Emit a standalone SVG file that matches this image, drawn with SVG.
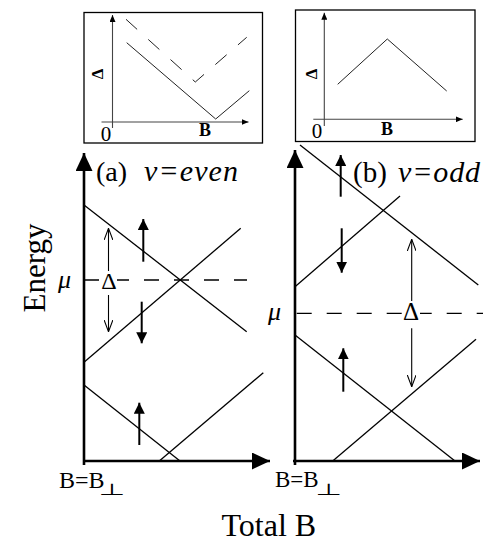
<svg xmlns="http://www.w3.org/2000/svg" width="483" height="542" viewBox="0 0 483 542">
<defs>
<marker id="ah" viewBox="0 0 10 10" refX="10" refY="5" markerWidth="11" markerHeight="11" markerUnits="userSpaceOnUse" orient="auto"><path d="M0,0 L10,5 L0,10 Z" fill="#000"/></marker>
<marker id="axh" viewBox="0 0 10 10" refX="10" refY="5" markerWidth="18" markerHeight="17" markerUnits="userSpaceOnUse" orient="auto" preserveAspectRatio="none"><path d="M0,0 L10,5 L0,10 Z" fill="#000"/></marker>
<marker id="sh" viewBox="0 0 10 10" refX="10" refY="5" markerWidth="7" markerHeight="6" markerUnits="userSpaceOnUse" orient="auto" preserveAspectRatio="none"><path d="M0,0 L10,5 L0,10 Z" fill="#000"/></marker>
<marker id="oh" viewBox="0 0 12 10" refX="12" refY="5" markerWidth="12" markerHeight="9" markerUnits="userSpaceOnUse" orient="auto" preserveAspectRatio="none"><path d="M0,0 L12,5 L0,10" fill="none" stroke="#000" stroke-width="1.2"/></marker>
</defs>
<style>
.t{font-family:"Liberation Serif","Times New Roman",serif;fill:#000}
.box{fill:none;stroke:#000;stroke-width:1.3}
.iax{stroke:#444;stroke-width:1.1;fill:none}
.iln{stroke:#222;stroke-width:1;fill:none}
.ax{stroke:#000;stroke-width:2.6;fill:none}
.ln{stroke:#000;stroke-width:1.3;fill:none}
.dash{stroke:#000;stroke-width:1.3;stroke-dasharray:15 15;fill:none}
.spin{stroke:#000;stroke-width:2;fill:none}
.gap{stroke:#000;stroke-width:1.1;fill:none}
</style>

<g id="inset-a">
<rect class="box" x="84" y="12.5" width="178.5" height="130.5"/>
<line class="iax" x1="112.5" y1="128" x2="112.5" y2="15" marker-end="url(#sh)"/>
<line class="iax" x1="101.5" y1="122" x2="248.5" y2="122" marker-end="url(#sh)"/>
<polyline class="iln" points="126.7,42.7 215.7,119 249.3,90.7"/>
<polyline class="iln" stroke-dasharray="15 15" points="126,19.3 195.3,82 246.7,37.3"/>
<text class="t" font-size="17" font-weight="bold" text-anchor="middle" transform="translate(102.5,74) rotate(-90)">Δ</text>
<text class="t" font-size="18" font-weight="bold" text-anchor="middle" x="205" y="136">B</text>
<text class="t" font-size="21" text-anchor="middle" x="106" y="141">0</text>
</g>

<g id="inset-b">
<rect class="box" x="295.5" y="10" width="179.5" height="131.5"/>
<line class="iax" x1="324.3" y1="126" x2="324.3" y2="12.7" marker-end="url(#sh)"/>
<line class="iax" x1="313.3" y1="119.3" x2="462.7" y2="119.3" marker-end="url(#sh)"/>
<polyline class="iln" points="337.7,84.3 387.3,39 446.7,91"/>
<text class="t" font-size="17" font-weight="bold" text-anchor="middle" transform="translate(317,74) rotate(-90)">Δ</text>
<text class="t" font-size="18" font-weight="bold" text-anchor="middle" x="387" y="135">B</text>
<text class="t" font-size="21" text-anchor="middle" x="317" y="138">0</text>
</g>

<g id="plot-a">
<line class="ax" x1="84" y1="465" x2="84" y2="153" marker-end="url(#axh)"/>
<line class="ax" x1="83" y1="461" x2="270" y2="461" marker-end="url(#axh)"/>
<text class="t" font-size="28" x="96" y="181">(a)</text>
<text class="t" font-size="30" font-style="italic" x="144" y="181" textLength="94" lengthAdjust="spacing">ν=even</text>
<text class="t" font-size="26" font-style="italic" x="58" y="288">μ</text>
<text class="t" font-size="24" x="59" y="488">B=B</text>
<text font-family="DejaVu Sans" font-size="18" text-anchor="middle" transform="translate(111.5,495) scale(1.7,0.9)">⊥</text>
</g>

<g id="plot-b">
<line class="ax" x1="295" y1="465" x2="295" y2="150" marker-end="url(#axh)"/>
<line class="ax" x1="293" y1="461" x2="480" y2="461" marker-end="url(#axh)"/>
<text class="t" font-size="29" x="353" y="182">(b)</text>
<text class="t" font-size="30" font-style="italic" x="398" y="182" textLength="82" lengthAdjust="spacing">ν=odd</text>
<text class="t" font-size="26" font-style="italic" x="268" y="320">μ</text>
<text class="t" font-size="23" x="275" y="487">B=B</text>
<text font-family="DejaVu Sans" font-size="18" text-anchor="middle" transform="translate(328.3,495) scale(1.7,0.9)">⊥</text>
</g>

<g id="connectors">
<line class="ln" x1="84" y1="205" x2="246.7" y2="331.7"/>
<line class="ln" x1="84" y1="362.3" x2="240.7" y2="228.3"/>
<line class="ln" x1="84" y1="385" x2="180" y2="461"/>
<line class="ln" x1="159.3" y1="461" x2="263.3" y2="372.7"/>
<line class="dash" x1="84" y1="280" x2="247" y2="280"/>
<line class="ln" x1="300" y1="145" x2="478.3" y2="285"/>
<line class="ln" x1="295" y1="286.7" x2="400" y2="196"/>
<line class="ln" x1="295" y1="335" x2="455" y2="461"/>
<line class="ln" x1="332.7" y1="461" x2="476" y2="339.3"/>
<line class="dash" x1="296.7" y1="313.3" x2="483" y2="313.3"/>
<line class="spin" x1="143.3" y1="261.7" x2="143.3" y2="219" marker-end="url(#ah)"/>
<line class="spin" x1="141.7" y1="301.7" x2="141.7" y2="343.3" marker-end="url(#ah)"/>
<line class="spin" x1="139.3" y1="445" x2="139.3" y2="402.7" marker-end="url(#ah)"/>
<line class="spin" x1="340.7" y1="196.7" x2="340.7" y2="155" marker-end="url(#ah)"/>
<line class="spin" x1="341.7" y1="228.3" x2="341.7" y2="272.7" marker-end="url(#ah)"/>
<line class="spin" x1="343.3" y1="391.7" x2="343.3" y2="348.3" marker-end="url(#ah)"/>
<line class="gap" x1="108.5" y1="271" x2="108.5" y2="228.3" marker-end="url(#oh)"/>
<line class="gap" x1="108.5" y1="295" x2="108.5" y2="331.7" marker-end="url(#oh)"/>
<line class="gap" x1="411.7" y1="301" x2="411.7" y2="239.3" marker-end="url(#oh)"/>
<line class="gap" x1="411.7" y1="328.3" x2="411.7" y2="386.7" marker-end="url(#oh)"/>
</g>

<g id="gap-labels">
<rect x="101" y="273" width="16" height="15" fill="#fff"/>
<text class="t" font-size="24" text-anchor="middle" x="109" y="288.5">Δ</text>
<rect x="403" y="304" width="17" height="16" fill="#fff"/>
<text class="t" font-size="25" text-anchor="middle" x="411" y="320">Δ</text>
</g>

<g id="axis-titles">
<text class="t" font-size="31" text-anchor="middle" transform="translate(45,268) rotate(-90)">Energy</text>
<text class="t" font-size="32" x="221.5" y="536">Total B</text>
</g>
</svg>
